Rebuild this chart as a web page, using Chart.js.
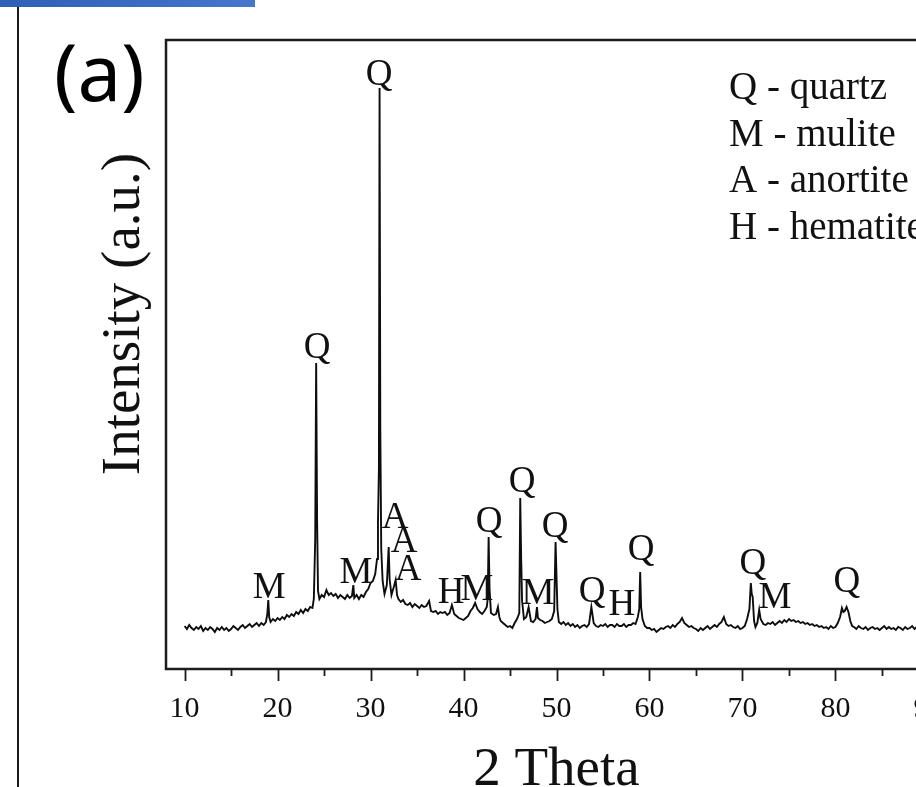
<!DOCTYPE html>
<html>
<head>
<meta charset="utf-8">
<script src="https://cdn.jsdelivr.net/npm/chart.js@4.4.1/dist/chart.umd.min.js"></script>
<style>
html, body { margin: 0; padding: 0; background: #fff; overflow: hidden; width: 916px; height: 787px; }
#topbar { position: absolute; left: 0; top: 0; width: 255px; height: 7px; background: linear-gradient(to right, #2f5fb6, #4677cc); }
#rule { position: absolute; left: 17px; top: 7px; width: 2px; height: 780px; background: #1a1a1a; }
#xrd { position: absolute; left: 0; top: 0; }
</style>
</head>
<body>
<div id="topbar"></div>
<div id="rule"></div>
<canvas id="xrd" width="1000" height="787"></canvas>
<script>
// XRD scan: 2 theta (deg) and intensity (a.u.)
const twoTheta = [
    10, 10.25, 10.5, 10.75,
    11, 11.25, 11.5, 11.75,
    12, 12.25, 12.5, 12.75,
    13, 13.25, 13.5, 13.75,
    14, 14.25, 14.5, 14.75,
    15, 15.25, 15.5, 15.75,
    16, 16.25, 16.5, 16.75,
    17, 17.25, 17.5, 17.75,
    18, 18.25, 18.5, 18.75, 18.9,
    19, 19.1, 19.25, 19.5, 19.75,
    20, 20.25, 20.5, 20.75,
    21, 21.25, 21.5, 21.75,
    22, 22.25, 22.5, 22.75,
    23, 23.25, 23.5, 23.75, 23.9,
    24.05, 24.15, 24.25, 24.35, 24.5, 24.75,
    25, 25.25, 25.5, 25.75,
    26, 26.25, 26.5, 26.75,
    27, 27.25, 27.5, 27.75,
    28, 28.15, 28.25, 28.5, 28.75,
    29, 29.25, 29.5, 29.75,
    30, 30.25, 30.5, 30.7, 30.8, 30.9,
    30.97, 31.05, 31.15, 31.3, 31.5, 31.75, 31.95,
    32.05, 32.25, 32.5, 32.7, 32.85,
    33, 33.25, 33.5, 33.75,
    34, 34.25, 34.5, 34.75,
    35, 35.25, 35.5, 35.75,
    36, 36.3, 36.5, 36.75,
    37, 37.25, 37.5, 37.75,
    38, 38.25, 38.5, 38.75,
    39, 39.25, 39.5, 39.75,
    40, 40.25, 40.5, 40.75,
    41, 41.25, 41.5, 41.75,
    42, 42.25, 42.5, 42.6, 42.7, 42.8, 42.95,
    43.25, 43.5, 43.7, 43.85,
    44, 44.25, 44.5, 44.75,
    45, 45.25, 45.5, 45.75,
    46, 46.1, 46.2, 46.3, 46.5, 46.75,
    47, 47.25, 47.5, 47.75, 47.9,
    48, 48.25, 48.5, 48.75,
    49, 49.25, 49.5, 49.75, 49.9,
    50, 50.1, 50.25, 50.5, 50.75,
    51, 51.25, 51.5, 51.75,
    52, 52.25, 52.5, 52.75,
    53, 53.25, 53.5, 53.75,
    54, 54.25, 54.5, 54.75,
    55, 55.25, 55.5, 55.75,
    56, 56.25, 56.5, 56.75,
    57, 57.25, 57.5, 57.75,
    58, 58.25, 58.5, 58.75, 58.9,
    59, 59.1, 59.25, 59.5, 59.75,
    60, 60.25, 60.5, 60.75,
    61, 61.25, 61.5, 61.75,
    62, 62.25, 62.5, 62.75,
    63, 63.25, 63.5, 63.75,
    64, 64.25, 64.5, 64.75,
    65, 65.25, 65.5, 65.75,
    66, 66.25, 66.5, 66.75,
    67, 67.25, 67.5, 67.75,
    68, 68.25, 68.5, 68.75,
    69, 69.25, 69.5, 69.75,
    70, 70.25, 70.5, 70.75, 70.9,
    71, 71.1, 71.25, 71.4, 71.6, 71.8, 71.95,
    72.25, 72.5, 72.75,
    73, 73.25, 73.5, 73.75,
    74, 74.25, 74.5, 74.75,
    75, 75.25, 75.5, 75.75,
    76, 76.25, 76.5, 76.75,
    77, 77.25, 77.5, 77.75,
    78, 78.25, 78.5, 78.75,
    79, 79.25, 79.5, 79.75,
    80, 80.25, 80.5, 80.7, 80.85,
    81, 81.2, 81.4, 81.6, 81.8,
    82, 82.25, 82.5, 82.75,
    83, 83.25, 83.5, 83.75,
    84, 84.25, 84.5, 84.75,
    85, 85.25, 85.5, 85.75,
    86, 86.25, 86.5, 86.75,
    87, 87.25, 87.5, 87.75,
    88, 88.25, 88.5, 88.75,
    89, 89.25, 89.5, 89.75,
    90
];
const intensity = [
    43, 40, 44, 41,
    39, 42, 40, 43,
    38, 41, 39, 42,
    40, 37, 41, 39,
    42, 39, 41, 38,
    40, 43, 41, 39,
    42, 44, 41, 43,
    45, 42, 44, 46,
    43, 46, 44, 47, 55,
    69, 52, 47, 50, 48,
    51, 49, 52, 50,
    54, 52, 55, 53,
    57, 55, 59, 56,
    60, 58, 62, 61, 70,
    130, 306, 150, 78, 70, 74,
    72, 79, 74, 76,
    73, 75, 71, 74,
    72, 70, 74, 71,
    73, 84, 71, 74, 70,
    74, 72, 77, 80,
    86, 88, 95, 110, 147, 200,
    581, 239, 120, 88, 75, 84, 122,
    90, 74, 82, 89, 74,
    70, 67, 69, 65,
    64, 66, 62, 65,
    63, 61, 64, 62,
    63, 68, 58, 57,
    58, 55, 57, 56,
    57, 54, 56, 64,
    55, 53, 51, 50,
    49, 51, 53, 58,
    61, 66, 60, 57,
    55, 58, 62, 70, 132, 80, 56,
    54, 55, 62, 52,
    48, 46, 44, 42,
    43, 41, 46, 50,
    56, 171, 110, 68, 50, 52,
    62, 48, 47, 50, 62,
    51, 49, 48, 46,
    47, 48, 50, 58, 127,
    93, 60, 47, 45, 47,
    44, 46, 43, 45,
    42, 44, 41, 43,
    44, 42, 45, 62,
    46, 43, 42, 44,
    43, 45, 42, 44,
    44, 42, 45, 43,
    43, 45, 42, 44,
    44, 46, 45, 52, 60,
    97, 62, 50, 43, 41,
    41, 39, 40, 37,
    39, 41, 40, 42,
    43, 41, 44, 42,
    45, 47, 51, 46,
    44, 42, 43, 41,
    40, 38, 41, 39,
    41, 43, 40, 42,
    44, 42, 45, 47,
    52, 45, 43, 44,
    42, 41, 43, 40,
    41, 43, 50, 60, 86,
    75, 72, 48, 42, 46, 59, 50,
    45, 44, 46,
    45, 47, 44, 46,
    48, 46, 49, 47,
    50, 48, 49, 47,
    48, 46, 47, 45,
    46, 44, 45, 43,
    44, 42, 43, 41,
    42, 40, 43, 41,
    42, 46, 52, 61, 57,
    58, 62, 57, 48, 43,
    42, 40, 43, 41,
    40, 42, 39, 41,
    42, 40, 41, 39,
    41, 43, 40, 42,
    40, 41, 39, 42,
    41, 39, 42, 40,
    41, 43, 40, 42,
    40, 41, 39, 42,
    41
];

// phase labels over the peaks
const peakText  = ['Q', 'Q', 'M', 'M', 'A', 'A', 'A', 'H', 'M', 'Q', 'Q', 'M', 'Q', 'Q', 'H', 'Q', 'Q', 'M', 'Q'];
const peakAngle = [30.91, 24.25, 19.09, 28.44, 32.63, 33.6, 34.03, 38.66, 41.45, 42.74, 46.29, 48.01, 49.84, 53.82, 57.04, 59.09, 71.13, 73.49, 81.24];
const peakLevel = [594, 321, 81, 96, 151, 127, 99, 76, 79, 147, 187, 75, 142, 77, 64, 119, 105, 71, 87];

const legendLines = ['Q - quartz', 'M - mulite', 'A - anortite', 'H - hematite'];
const xTickValues = [10, 20, 30, 40, 50, 60, 70, 80, 90];
const xMinorTicks = [15, 25, 35, 45, 55, 65, 75, 85];

const serif = '"Liberation Serif", "Times New Roman", serif';

const decorations = {
    id: 'decorations',
    afterDraw(chart) {
        const c = chart.ctx;
        const a = chart.chartArea;
        const xs = chart.scales.x;
        const ys = chart.scales.y;
        c.save();

        // frame
        c.strokeStyle = '#1c1c1c';
        c.lineWidth = 2.5;
        c.strokeRect(a.left, a.top, a.right - a.left, a.bottom - a.top);

        // tick marks, outward
        c.lineWidth = 1.8;
        c.beginPath();
        xTickValues.forEach(v => {
            const px = Math.round(xs.getPixelForValue(v)) + 0.5;
            c.moveTo(px, a.bottom);
            c.lineTo(px, a.bottom + 12);
        });
        xMinorTicks.forEach(v => {
            const px = Math.round(xs.getPixelForValue(v)) + 0.5;
            c.moveTo(px, a.bottom);
            c.lineTo(px, a.bottom + 7);
        });
        c.stroke();

        // peak labels
        c.fillStyle = '#111';
        c.font = '37px ' + serif;
        c.textAlign = 'center';
        c.textBaseline = 'middle';
        peakText.forEach((t, i) => {
            c.fillText(t, xs.getPixelForValue(peakAngle[i]), ys.getPixelForValue(peakLevel[i]));
        });

        // phase key
        c.font = '39px ' + serif;
        c.textAlign = 'left';
        c.textBaseline = 'alphabetic';
        legendLines.forEach((t, i) => {
            c.fillText(t, 729, 99 + i * 46.7);
        });

        // axis titles
        c.font = '55px ' + serif;
        c.textAlign = 'center';
        c.fillText('2 Theta', (a.left + a.right) / 2, 785);
        c.save();
        c.translate(139, 314);
        c.rotate(-Math.PI / 2);
        c.fillText('Intensity (a.u.)', 0, 0);
        c.restore();

        // panel letter
        c.font = '78px "Noto Sans", sans-serif';
        c.textAlign = 'left';
        c.fillStyle = '#000';
        c.fillText('(a)', 54, 101);

        c.restore();
    }
};

const ctx = document.getElementById('xrd').getContext('2d');
new Chart(ctx, {
    type: 'line',
    data: {
        datasets: [{
            data: twoTheta.map((t, i) => ({ x: t, y: intensity[i] })),
            borderColor: '#0d0d0d',
            borderWidth: 1.9,
            pointRadius: 0,
            tension: 0
        }]
    },
    options: {
        responsive: false,
        animation: false,
        layout: { padding: { top: 40, right: 53, left: 0, bottom: 0 } },
        plugins: { legend: { display: false }, tooltip: { enabled: false } },
        scales: {
            x: {
                type: 'linear',
                min: 8,
                max: 92,
                afterBuildTicks: s => { s.ticks = xTickValues.map(v => ({ value: v })); },
                afterFit: s => { s.height = 118; },
                grid: { display: true, drawOnChartArea: false, drawTicks: true, tickLength: 12, color: 'rgba(0,0,0,0)' },
                border: { display: false },
                ticks: {
                    padding: 10,
                    color: '#111',
                    maxRotation: 0,
                    autoSkip: false,
                    font: { family: serif, size: 30 },
                    callback: v => String(v)
                }
            },
            y: {
                min: 0,
                max: 629,
                afterFit: s => { s.width = 166; },
                grid: { display: false },
                border: { display: false },
                ticks: { display: false }
            }
        }
    },
    plugins: [decorations]
});
</script>
</body>
</html>
